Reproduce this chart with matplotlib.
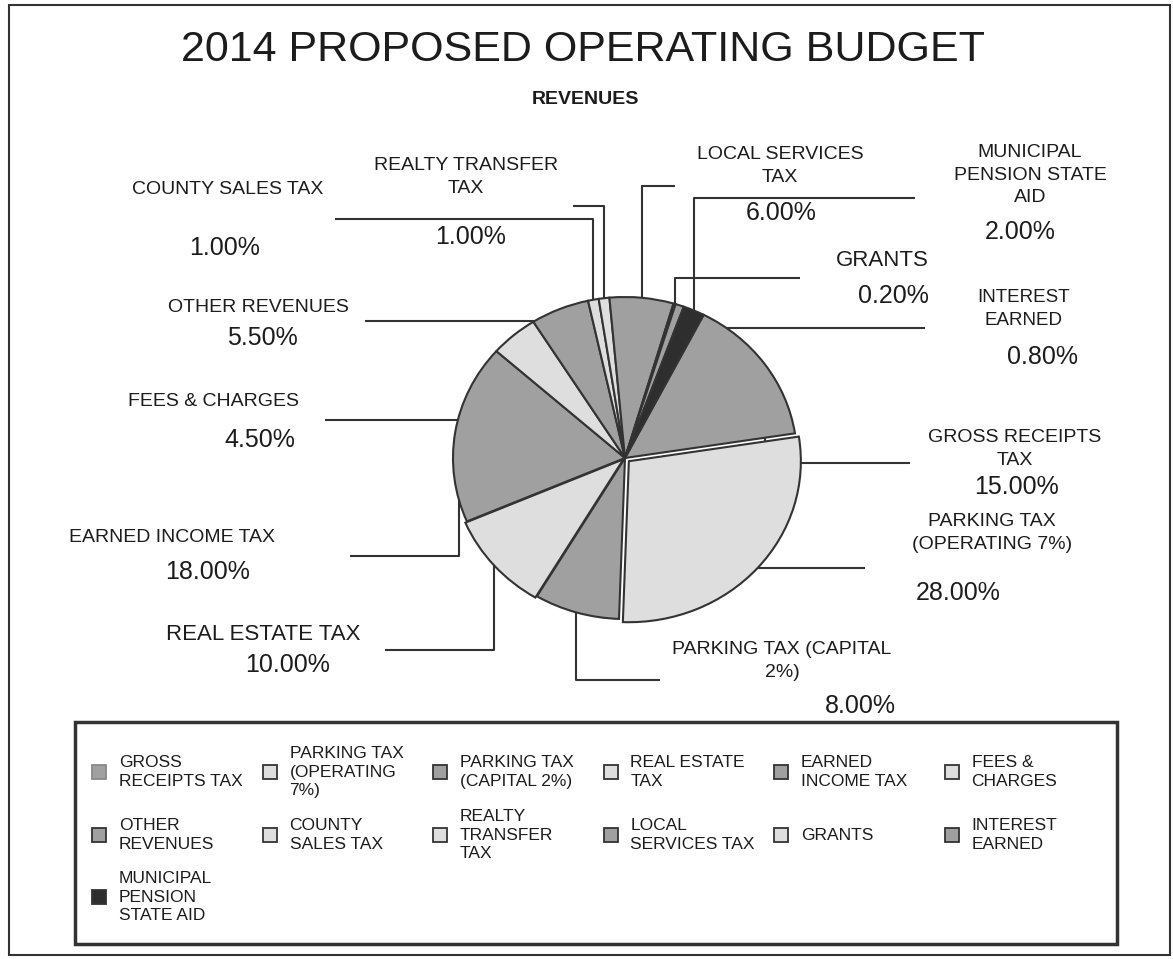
import numpy as np
import matplotlib
matplotlib.use("Agg")
import matplotlib.pyplot as plt
from matplotlib.patches import Rectangle

plt.rcParams['font.family'] = ['Liberation Sans', 'DejaVu Sans']

# revenue categories, legend order
categories = ['GROSS RECEIPTS TAX', 'PARKING TAX (OPERATING 7%)', 'PARKING TAX (CAPITAL 2%)',
              'REAL ESTATE TAX', 'EARNED INCOME TAX', 'FEES & CHARGES', 'OTHER REVENUES',
              'COUNTY SALES TAX', 'REALTY TRANSFER TAX', 'LOCAL SERVICES TAX', 'GRANTS',
              'INTEREST EARNED', 'MUNICIPAL PENSION STATE AID']
shares = [15.0, 28.0, 8.0, 10.0, 18.0, 4.5, 5.5, 1.0, 1.0, 6.0, 0.2, 0.8, 2.0]

# wrapped text for the legend and the callouts
legend_text = ['GROSS\nRECEIPTS TAX', 'PARKING TAX\n(OPERATING\n7%)', 'PARKING TAX\n(CAPITAL 2%)',
               'REAL ESTATE\nTAX', 'EARNED\nINCOME TAX', 'FEES &\nCHARGES', 'OTHER\nREVENUES',
               'COUNTY\nSALES TAX', 'REALTY\nTRANSFER\nTAX', 'LOCAL\nSERVICES TAX', 'GRANTS',
               'INTEREST\nEARNED', 'MUNICIPAL\nPENSION\nSTATE AID']
callout_text = ['GROSS RECEIPTS\nTAX', 'PARKING TAX\n(OPERATING 7%)', 'PARKING TAX (CAPITAL\n2%)',
                'REAL ESTATE TAX', 'EARNED INCOME TAX', 'FEES & CHARGES', 'OTHER REVENUES',
                'COUNTY SALES TAX', 'REALTY TRANSFER\nTAX', 'LOCAL SERVICES\nTAX', 'GRANTS',
                'INTEREST\nEARNED', 'MUNICIPAL\nPENSION STATE\nAID']

GRAY, LIGHT, DARK = '#a0a0a0', '#dedede', '#2e2e2e'
colors = [GRAY, LIGHT, GRAY, LIGHT, GRAY, LIGHT, GRAY, LIGHT, LIGHT, GRAY, LIGHT, GRAY, DARK]
explode = [0, 0.03, 0, 0.012, 0, 0, 0, 0, 0, 0, 0, 0, 0]

W, H = 1173, 959
fig = plt.figure(figsize=(W / 100, H / 100), dpi=100)
ax = fig.add_axes([0, 0, 1, 1])
ax.set_xlim(0, W)
ax.set_ylim(H, 0)
ax.axis('off')

ink = '#1c1c1c'
ax.add_patch(Rectangle((9, 5), 1161, 950, fill=False, ec='#333333', lw=1.5))
ax.text(583, 50, '2014 PROPOSED OPERATING BUDGET', ha='center', va='center', fontsize=31, color=ink)
ax.text(585, 100, 'REVENUES', ha='center', va='center', fontsize=14, fontweight='bold', color=ink)

# pie in its own axes, stretched slightly into an ellipse
cx, cy, rx, ry = 625, 458, 172, 161
pad = 1.1
pax = fig.add_axes([(cx - rx * pad) / W, (H - cy - ry * pad) / H, 2 * rx * pad / W, 2 * ry * pad / H])
wedges, _ = pax.pie(shares, colors=colors, explode=explode, startangle=62.8, counterclock=False,
                    radius=1, wedgeprops=dict(edgecolor='#333333', linewidth=1.5))
pax.set_xlim(-pad, pad)
pax.set_ylim(-pad, pad)
pax.set_aspect('auto')
pax.axis('off')

to_px = pax.transData + ax.transData.inverted()

# leader lines: (position along wedge, radius, elbow y or None, end x)
leaders = [(0.5, 1.0, 463, 910), (0.5, 1.0, None, 865), (0.5, 1.0, 680, 660),
           (0.5, 1.0, 650, 385), (0.873, 1.0, 556, 350), (0.5, 1.0, 420, 325),
           (0.5, 0.92, None, 365), (0.5, 1.0, 219, 335), (0.5, 1.0, 206, 573),
           (0.5, 1.0, 186, 675), (0.5, 1.0, 278, 800), (0.5, 0.85, None, 925),
           (0.5, 1.0, 198, 915)]
for w, (frac, r, ly, ex) in zip(wedges, leaders):
    ang = np.radians(w.theta1 + frac * (w.theta2 - w.theta1))
    px, py = to_px.transform((w.center[0] + r * np.cos(ang), w.center[1] + r * np.sin(ang)))
    if ly is None:
        xs, ys = [px, ex], [py, py]
    else:
        xs, ys = [px, px, ex], [py, ly, ly]
    ax.plot(xs, ys, color='#333333', lw=1.5, solid_capstyle='butt')

# callout label and percentage positions
label_pos = [(1015, 449), (992, 533), (782, 661), (263, 635), (172, 537), (214, 402),
             (258, 307), (228, 190), (466, 177), (780, 166), (882, 260), (1024, 309), (1030, 175)]
label_size = [14, 14, 14, 16, 14, 14, 14, 14, 14, 14, 16, 13.5, 14]
pct_pos = [(1017, 487), (958, 593), (860, 706), (288, 665), (208, 572), (260, 440),
           (262, 338), (225, 248), (471, 237), (781, 213), (893, 296), (1043, 357), (1020, 232)]
for txt, (lx, ly), fs, (qx, qy), v in zip(callout_text, label_pos, label_size, pct_pos, shares):
    ax.text(lx, ly, txt, ha='center', va='center', fontsize=fs, color=ink, linespacing=1.4)
    ax.text(qx, qy, f'{v:.2f}%', ha='center', va='center', fontsize=18, color=ink)

# legend box drawn as a 6-column grid
ax.add_patch(Rectangle((75, 722), 1042, 222, fill=False, ec='#333333', lw=2.5))
row_y = [772, 835, 897]
for i, (txt, c) in enumerate(zip(legend_text, colors)):
    col, row = i % 6, i // 6
    mx, my = 92 + 170.5 * col, row_y[row]
    ec = '#888888' if i == 0 else '#333333'
    ax.add_patch(Rectangle((mx, my - 7), 14, 14, fc=c, ec=ec, lw=1.3))
    ax.text(mx + 27, my, txt, ha='left', va='center', fontsize=12.5, color=ink, linespacing=1.3)

fig.savefig('out.png', dpi=100)
